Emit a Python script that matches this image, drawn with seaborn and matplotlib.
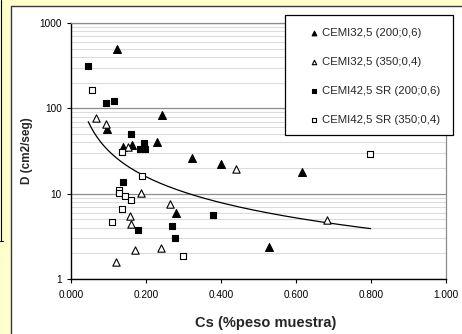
import numpy as np
import pandas as pd
import matplotlib
matplotlib.use("Agg")
import matplotlib.pyplot as plt
import seaborn as sns
from matplotlib.patches import Rectangle
from matplotlib.lines import Line2D
from matplotlib.ticker import FixedLocator, NullFormatter, LogLocator

# ---------------- data ----------------
series_names = ["CEMI32,5 (200;0,6)", "CEMI32,5 (350;0,4)",
                "CEMI42,5 SR (200;0,6)", "CEMI42,5 SR (350;0,4)"]

cs_32_200 = [0.123, 0.243, 0.097, 0.138, 0.162, 0.229, 0.280, 0.322, 0.400, 0.529, 0.617]
d_32_200 = [490, 84, 58, 35.7, 37.2, 40, 5.9, 26.4, 22.1, 2.39, 18.0]

cs_32_350 = [0.067, 0.0925, 0.151, 0.186, 0.158, 0.160, 0.263, 0.171, 0.121, 0.239, 0.441, 0.682]
d_32_350 = [76.5, 65.6, 35.0, 10.3, 5.5, 4.45, 7.5, 2.19, 1.6, 2.33, 19.3, 4.92]

cs_42_200 = [0.046, 0.093, 0.1155, 0.159, 0.195, 0.184, 0.1965, 0.139, 0.179, 0.2685, 0.278, 0.378]
d_42_200 = [310, 115, 122, 50, 39.6, 33.1, 33.1, 13.8, 3.72, 4.18, 3.0, 5.63]

cs_42_350 = [0.055, 0.135, 0.189, 0.128, 0.128, 0.145, 0.159, 0.135, 0.1085, 0.299, 0.797]
d_42_350 = [165, 31.1, 16.0, 11.0, 10.2, 9.5, 8.4, 6.56, 4.7, 1.86, 29]

# trendline (power type) points
trend_cs = [0.046, 0.166, 0.264, 0.45, 0.682, 0.799]
trend_d = [69.9, 19.0, 11.9, 7.0, 4.6, 3.86]

x_ticks = [0.0, 0.2, 0.4, 0.6, 0.8, 1.0]
x_tick_labels = ["0.000", "0.200", "0.400", "0.600", "0.800", "1.000"]
y_ticks = [1, 10, 100, 1000]
y_tick_labels = ["1", "10", "100", "1000"]

# ---------------- figure ----------------
sns.set_style("white")
plt.rcParams["font.family"] = ["Liberation Sans", "DejaVu Sans"]

W, H = 462, 334
fig = plt.figure(figsize=(W / 100, H / 100), dpi=100, facecolor="#FFFFCC")

def fx(px):
    return px / W

def fy(py):
    return 1 - py / H

# white chart panel with dark left/top border
fig.add_artist(Rectangle((fx(10.5), 0), 1, fy(5.5), transform=fig.transFigure,
                         facecolor="white", edgecolor="none", zorder=-5))
fig.add_artist(Line2D([fx(10.5), fx(10.5)], [0, fy(5.5)], color="#3a3a3a", lw=1.0,
                      transform=fig.transFigure, zorder=-4))
fig.add_artist(Line2D([fx(10.5), 1], [fy(5.5), fy(5.5)], color="#3a3a3a", lw=1.0,
                      transform=fig.transFigure, zorder=-4))
fig.add_artist(Line2D([fx(1), fx(1)], [1, fy(241)], color="black", lw=0.8,
                      transform=fig.transFigure, zorder=-4))
fig.add_artist(Line2D([0, fx(3)], [fy(241), fy(241)], color="black", lw=0.8,
                      transform=fig.transFigure, zorder=-4))

ax = fig.add_axes([fx(71), fy(279), (446 - 71) / W, (279 - 23) / H])
ax.set_facecolor("white")

frames = []
for name, xs, ys in [(series_names[0], cs_32_200, d_32_200),
                     (series_names[1], cs_32_350, d_32_350),
                     (series_names[2], cs_42_200, d_42_200),
                     (series_names[3], cs_42_350, d_42_350)]:
    frames.append(pd.DataFrame({"Cs": xs, "D": ys, "serie": name}))
df = pd.concat(frames, ignore_index=True)

styles = {
    series_names[0]: dict(marker="^", facecolor="black", s=32),
    series_names[1]: dict(marker="^", facecolor="white", s=28),
    series_names[2]: dict(marker="s", facecolor="black", s=25),
    series_names[3]: dict(marker="s", facecolor="white", s=21),
}

ax.set_yscale("log")
for name in series_names:
    st = styles[name]
    sub = df[df["serie"] == name]
    sns.scatterplot(data=sub, x="Cs", y="D", ax=ax, marker=st["marker"],
                    s=st["s"], facecolor=st["facecolor"], edgecolor="black",
                    linewidth=0.8, label=name, zorder=3, legend=True)

# trendline
tfit = np.polyfit(np.log(trend_cs), np.log(trend_d), 1)
tx = np.linspace(min(trend_cs), max(trend_cs), 200)
ty = np.exp(np.polyval(tfit, np.log(tx)))
sns.lineplot(x=tx, y=ty, ax=ax, color="black", lw=0.9, zorder=2, legend=False)

ax.set_xlim(0, 1.0)
ax.set_ylim(1, 1000)

# grid
ax.yaxis.set_major_locator(FixedLocator(y_ticks))
ax.yaxis.set_minor_locator(LogLocator(base=10, subs=np.arange(2, 10)))
ax.yaxis.set_minor_formatter(NullFormatter())
ax.set_yticklabels(y_tick_labels)
ax.set_xticks(x_ticks)
ax.set_xticklabels(x_tick_labels)
ax.grid(False)
ax.yaxis.grid(True, which="major", color="#8c8c8c", lw=0.9, zorder=0)
ax.yaxis.grid(True, which="minor", color="#dcdcdc", lw=0.8, zorder=0)
ax.set_axisbelow(True)

for sp in ["left", "bottom"]:
    ax.spines[sp].set_color("black")
    ax.spines[sp].set_linewidth(1.0)
for sp in ["right", "top"]:
    ax.spines[sp].set_color("#8c8c8c")
    ax.spines[sp].set_linewidth(0.9)

ax.tick_params(axis="y", which="major", direction="out", length=3, width=0.8,
               pad=3.5, labelsize=7.2, colors="black", left=True)
ax.tick_params(axis="y", which="minor", length=0)
ax.tick_params(axis="x", which="major", direction="out", length=3, width=0.8,
               pad=5, labelsize=7.2, colors="black", bottom=True)

ax.set_xlabel("Cs (%peso muestra)", fontsize=10.5, fontweight="bold")
ax.set_ylabel("D (cm2/seg)", fontsize=8.5, fontweight="bold")
ax.xaxis.set_label_coords((266 - 71) / 375, (279 - 316) / 256)
ax.yaxis.set_label_coords((33 - 71) / 375, 0.5)

# legend box (Excel style, not tight around content)
handles, labels = ax.get_legend_handles_labels()
ax.get_legend().remove()
fig.add_artist(Rectangle((fx(285), fy(135)), (453 - 285) / W, (135 - 15) / H,
                         transform=fig.transFigure, facecolor="white",
                         edgecolor="black", lw=0.9, zorder=5))
leg = fig.legend(handles, labels, loc="upper left",
                 bbox_to_anchor=(fx(302.5), fy(22.5)), bbox_transform=fig.transFigure,
                 frameon=False, fontsize=8.2, borderpad=0, handlelength=1.0,
                 handletextpad=0.25, labelspacing=1.66, markerscale=0.6,
                 scatterpoints=1)
leg.set_zorder(6)

fig.savefig("out.png", dpi=100, facecolor=fig.get_facecolor())
